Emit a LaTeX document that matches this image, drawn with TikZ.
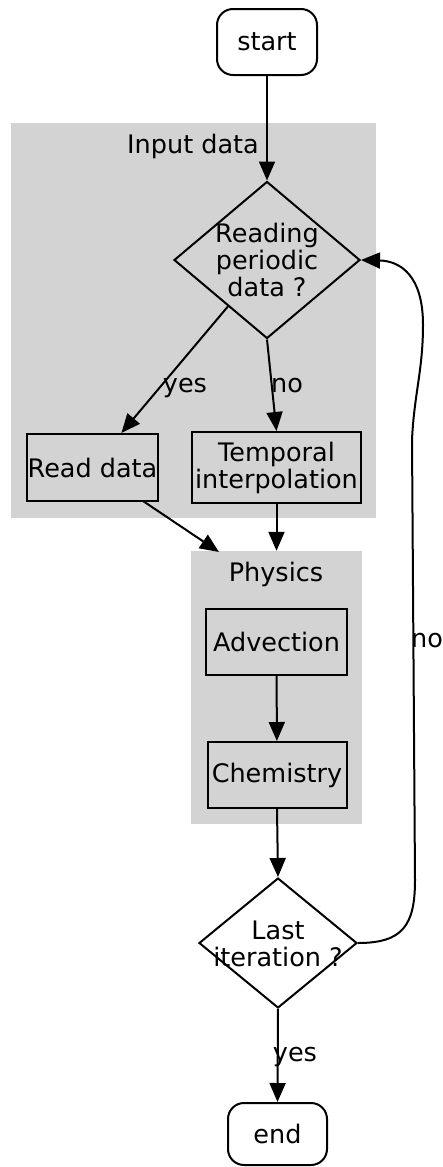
\documentclass[tikz,border=0pt]{standalone}
\usepackage{fontspec}
\setmainfont{DejaVu Sans}
\usetikzlibrary{arrows.meta,positioning,shapes.geometric}
\definecolor{clustergray}{RGB}{211,211,211}

\begin{document}
\begin{tikzpicture}[
    x=1pt, y=-1pt,
    font=\fontsize{25.5}{27}\selectfont,
    cluster/.style={rectangle, fill=clustergray, draw=none, inner sep=0pt},
    terminal/.style={rectangle, rounded corners=16pt, draw, fill=white,
                line width=2pt, minimum width=100pt, minimum height=66pt,
                inner sep=0pt},
    process/.style={rectangle, draw, line width=2pt, minimum width=#1,
                minimum height=67pt, inner sep=1pt, align=center},
    decision/.style={diamond, draw, line width=2pt, inner sep=0pt, fill=#1},
    arrow/.style={-{Triangle[length=19pt,width=16pt]}, line width=2pt},
    lbl/.style={inner sep=0pt, align=center},
]
    \useasboundingbox (0,0) rectangle (442,1167);

    % Clusters
    \node[cluster, minimum width=365pt, minimum height=395pt] (inputcl) at (193.5,320.5) {};
    \node[lbl] (inputlbl) at (193,146) {Input data};
    \node[cluster, minimum width=171pt, minimum height=273pt] (physics) at (276.5,687.5) {};
    \node[lbl] (physlbl) at (276,574) {Physics};

    % Start and reading test
    \node[terminal] (start) at (267,42) {start};
    \node[decision=none, minimum width=186pt, minimum height=157pt] (read) at (267,260) {};
    \node[lbl] (readtxt) at (267,260) {Reading\\periodic\\data ?};

    % Input branches
    \node[process=131pt] (readdata) at (92.5,467.5) {Read data};
    \node[process=169pt, minimum height=71pt] (temporal) at (276.5,467.5) {Temporal\\interpolation};

    % Physics steps
    \node[process=141pt, minimum height=66pt] (advection) at (276.5,642) {Advection};
    \node[process=139pt, minimum height=66pt] (chemistry) at (277,775) {Chemistry};

    % Loop test and end
    \node[decision=white, minimum width=158pt, minimum height=130pt] (lastit) at (278,943) {};
    \node[lbl] (lasttxt) at (278,944) {Last\\iteration ?};
    \node[terminal, minimum width=99pt, minimum height=62pt] (end) at (277.5,1134) {end};

    % Arrows
    \coordinate (readout) at (143,501);
    \coordinate (physin) at (219,552);
    \draw[arrow] (start) -- (read.north);
    \draw[arrow] (read) -- (readdata);
    \draw[arrow] (read.south) -- (temporal.north);
    \draw[arrow] (readout) -- (physin);
    \draw[arrow] (temporal.south) -- (physics.north -| temporal.south);
    \draw[arrow] (advection) -- (chemistry);
    \draw[arrow] (chemistry.south) -- (lastit.north);
    \draw[arrow] (lastit.south) -- (end.north);
    \draw[arrow] (lastit.east) .. controls (403,943) and (415,925) .. (415,880)
        -- (412,440) .. controls (414,395) and (423,370) .. (423,325)
        .. controls (423,275) and (400,261) .. (read.east);

    % Edge labels
    \node[lbl] (yes1) at (185,388) {yes};
    \node[lbl] (no1) at (287,386) {no};
    \node[lbl] (no2) at (427,641) {no};
    \node[lbl] (yes2) at (295,1057) {yes};
\end{tikzpicture}
\end{document}
